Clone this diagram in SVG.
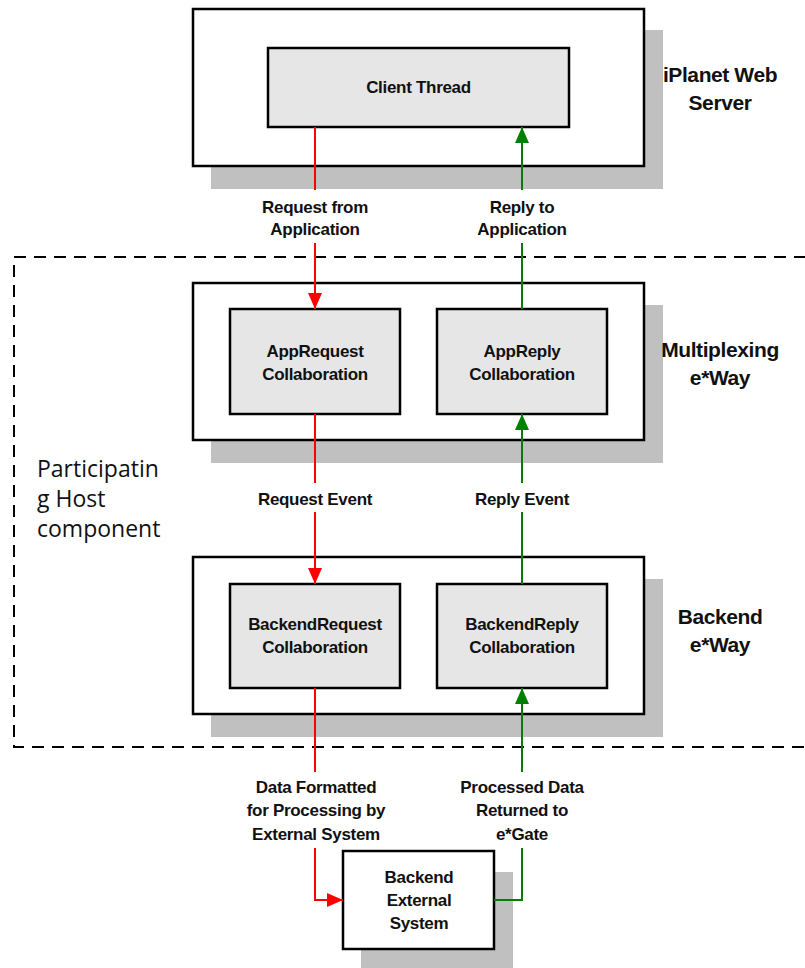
<svg xmlns="http://www.w3.org/2000/svg" width="805" height="968" viewBox="0 0 805 968">
<style>
.shadow{fill:#c0c0c0}
.outer{fill:#fff;stroke:#000;stroke-width:2.5}
.inner{fill:#e6e6e6;stroke:#000;stroke-width:2.5}
.lbl{font-family:"Liberation Sans",Arial,sans-serif;font-weight:bold;font-size:17px;letter-spacing:-0.3px;text-anchor:middle;fill:#111}
.big{font-family:"Liberation Sans",Arial,sans-serif;font-weight:bold;font-size:21px;letter-spacing:-0.4px;text-anchor:middle;fill:#111}
.host{font-family:"Open Sans","DejaVu Sans",sans-serif;font-size:23px;fill:#111}
.red{stroke:#ff0000;stroke-width:2;fill:none}
.green{stroke:#008000;stroke-width:2;fill:none}
</style>
<defs>
<marker id="ar" viewBox="0 0 16 14" refX="16" refY="7" markerWidth="16" markerHeight="14" markerUnits="userSpaceOnUse" orient="auto"><path d="M0,0 L16,7 L0,14 Z" fill="#ff0000"/></marker>
<marker id="ag" viewBox="0 0 16 14" refX="16" refY="7" markerWidth="16" markerHeight="14" markerUnits="userSpaceOnUse" orient="auto"><path d="M0,0 L16,7 L0,14 Z" fill="#008000"/></marker>
</defs>

<g id="host-boundary">
<rect x="14" y="257" width="820" height="490" fill="none" stroke="#000" stroke-width="2" stroke-dasharray="12 8"/>
<text class="host" x="37" y="477">Participatin</text>
<text class="host" x="37" y="507">g Host</text>
<text class="host" x="37" y="537">component</text>
</g>

<g id="web-server">
<rect class="shadow" x="211" y="30" width="452" height="159"/>
<rect class="outer" x="193" y="9" width="451" height="157"/>
<text class="big" x="720" y="82">iPlanet Web</text>
<text class="big" x="720" y="110">Server</text>
</g>
<g id="client-thread">
<rect class="inner" x="268" y="48" width="301" height="79"/>
<text class="lbl" x="418.5" y="93">Client Thread</text>
</g>

<g id="mux-eway">
<rect class="shadow" x="211" y="305" width="452" height="158"/>
<rect class="outer" x="193" y="283" width="451" height="157"/>
<text class="big" x="720" y="357">Multiplexing</text>
<text class="big" x="720" y="385">e*Way</text>
</g>
<g id="app-request">
<rect class="inner" x="230" y="309" width="170" height="105"/>
<text class="lbl" x="315" y="357">AppRequest</text>
<text class="lbl" x="315" y="380">Collaboration</text>
</g>
<g id="app-reply">
<rect class="inner" x="437" y="309" width="170" height="105"/>
<text class="lbl" x="522" y="357">AppReply</text>
<text class="lbl" x="522" y="380">Collaboration</text>
</g>

<g id="backend-eway">
<rect class="shadow" x="211" y="579" width="452" height="158"/>
<rect class="outer" x="193" y="557" width="451" height="157"/>
<text class="big" x="720" y="624">Backend</text>
<text class="big" x="720" y="652">e*Way</text>
</g>
<g id="backend-request">
<rect class="inner" x="230" y="584" width="170" height="104"/>
<text class="lbl" x="315" y="630">BackendRequest</text>
<text class="lbl" x="315" y="653">Collaboration</text>
</g>
<g id="backend-reply">
<rect class="inner" x="437" y="584" width="170" height="104"/>
<text class="lbl" x="522" y="630">BackendReply</text>
<text class="lbl" x="522" y="653">Collaboration</text>
</g>

<g id="external-system">
<rect class="shadow" x="361" y="872" width="152" height="100"/>
<rect class="outer" x="343" y="851" width="151" height="98"/>
<text class="lbl" x="419" y="883">Backend</text>
<text class="lbl" x="419" y="906">External</text>
<text class="lbl" x="419" y="929">System</text>
</g>

<g id="connectors">
<path class="red" d="M315,127 V190"/>
<path class="red" d="M315,243 V309" marker-end="url(#ar)"/>
<path class="red" d="M315,414 V483"/>
<path class="red" d="M315,512 V584" marker-end="url(#ar)"/>
<path class="red" d="M315,688 V772"/>
<path class="red" d="M315,848 V900 H343" marker-end="url(#ar)"/>
<path class="green" d="M522,190 V127" marker-end="url(#ag)"/>
<path class="green" d="M522,309 V243"/>
<path class="green" d="M522,483 V414" marker-end="url(#ag)"/>
<path class="green" d="M522,584 V512"/>
<path class="green" d="M522,772 V688" marker-end="url(#ag)"/>
<path class="green" d="M494,900 H522 V848"/>
<text class="lbl" x="315" y="213">Request from</text>
<text class="lbl" x="315" y="235">Application</text>
<text class="lbl" x="522" y="213">Reply to</text>
<text class="lbl" x="522" y="235">Application</text>
<text class="lbl" x="315" y="505">Request Event</text>
<text class="lbl" x="522" y="505">Reply Event</text>
<text class="lbl" x="316" y="793">Data Formatted</text>
<text class="lbl" x="316" y="816">for Processing by</text>
<text class="lbl" x="316" y="840">External System</text>
<text class="lbl" x="522" y="793">Processed Data</text>
<text class="lbl" x="522" y="816">Returned to</text>
<text class="lbl" x="522" y="840">e*Gate</text>
</g>
</svg>
